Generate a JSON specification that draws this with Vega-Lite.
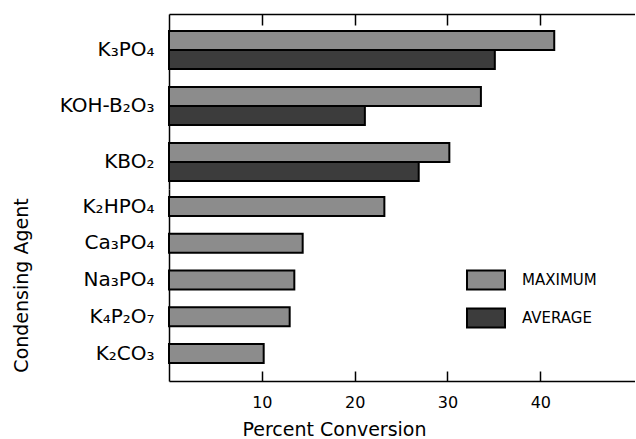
{
  "$schema": "https://vega.github.io/schema/vega-lite/v6.json",
  "padding": {"left": 12, "top": 13, "right": 0, "bottom": 0},
  "background": "white",
  "datasets": {
    "pairs": [
      {"agent": "K₃PO₄", "series": "MAXIMUM", "value": 41.5},
      {"agent": "K₃PO₄", "series": "AVERAGE", "value": 35.1},
      {"agent": "KOH-B₂O₃", "series": "MAXIMUM", "value": 33.6},
      {"agent": "KOH-B₂O₃", "series": "AVERAGE", "value": 21.1},
      {"agent": "KBO₂", "series": "MAXIMUM", "value": 30.2},
      {"agent": "KBO₂", "series": "AVERAGE", "value": 26.9}
    ],
    "singles": [
      {"agent": "K₂HPO₄", "series": "MAXIMUM", "value": 23.2},
      {"agent": "Ca₃PO₄", "series": "MAXIMUM", "value": 14.4},
      {"agent": "Na₃PO₄", "series": "MAXIMUM", "value": 13.5},
      {"agent": "K₄P₂O₇", "series": "MAXIMUM", "value": 13.0},
      {"agent": "K₂CO₃", "series": "MAXIMUM", "value": 10.2}
    ]
  },
  "spacing": 0,
  "resolve": {"scale": {"y": "independent", "x": "shared", "color": "shared"}},
  "vconcat": [
    {
      "width": 466,
      "height": 175,
      "data": {"name": "pairs"},
      "mark": {"type": "bar", "stroke": "black", "strokeWidth": 2},
      "encoding": {
        "y": {
          "field": "agent", "type": "nominal", "sort": null,
          "scale": {"paddingInner": 0.321, "paddingOuter": 0.223, "align": 0.68},
          "axis": {"title": null, "ticks": false, "labelPadding": 15}
        },
        "yOffset": {
          "field": "series", "type": "nominal", "sort": ["MAXIMUM", "AVERAGE"],
          "scale": {"paddingInner": 0, "paddingOuter": 0}
        },
        "x": {
          "field": "value", "type": "quantitative",
          "scale": {"domain": [0, 50.2], "nice": false, "zero": true},
          "axis": {"orient": "top", "labels": false, "title": null, "values": [10, 20, 30, 40], "tickSize": -11, "grid": false}
        },
        "color": {
          "field": "series", "type": "nominal",
          "scale": {"domain": ["MAXIMUM", "AVERAGE"], "range": ["#8c8c8c", "#3c3c3c"]},
          "legend": {
            "orient": "none", "legendX": 297, "legendY": 246, "title": null,
            "symbolType": "M-1,-0.5H1V0.5H-1Z", "symbolSize": 1444,
            "symbolStrokeColor": "black", "symbolStrokeWidth": 2, "symbolOpacity": 1,
            "labelFontSize": 15, "labelFont": "DejaVu Sans", "labelColor": "black",
            "labelOffset": 16, "rowPadding": 4
          }
        }
      }
    },
    {
      "width": 466,
      "height": 192,
      "data": {"name": "singles"},
      "mark": {"type": "bar", "stroke": "black", "strokeWidth": 2},
      "encoding": {
        "y": {
          "field": "agent", "type": "nominal", "sort": null,
          "scale": {"paddingInner": 0.483, "paddingOuter": 0.354, "align": 0.31},
          "axis": {
            "title": "Condensing Agent", "ticks": false, "labelPadding": 15,
            "titleX": -148, "titleY": 96, "titleAngle": 270, "titleAlign": "center", "titleBaseline": "middle",
            "titleFontSize": 19
          }
        },
        "x": {
          "field": "value", "type": "quantitative",
          "scale": {"domain": [0, 50.2], "nice": false, "zero": true},
          "axis": {
            "orient": "bottom", "values": [10, 20, 30, 40], "tickSize": -10, "grid": false,
            "labelPadding": 23, "labelFontSize": 16,
            "title": "Percent Conversion", "titleFontSize": 19, "titlePadding": 10,
            "titleX": 165, "titleAlign": "center"
          }
        },
        "color": {
          "field": "series", "type": "nominal",
          "scale": {"domain": ["MAXIMUM", "AVERAGE"], "range": ["#8c8c8c", "#3c3c3c"]}
        }
      }
    }
  ],
  "config": {
    "view": {"stroke": null},
    "font": "DejaVu Sans",
    "axis": {
      "domainColor": "black", "domainWidth": 1.5, "tickColor": "black", "tickWidth": 1.5,
      "labelColor": "black", "labelFont": "DejaVu Sans", "labelFontSize": 20,
      "titleColor": "black", "titleFont": "DejaVu Sans", "titleFontWeight": "normal"
    },
    "legend": {"labelColor": "black"}
  }
}
